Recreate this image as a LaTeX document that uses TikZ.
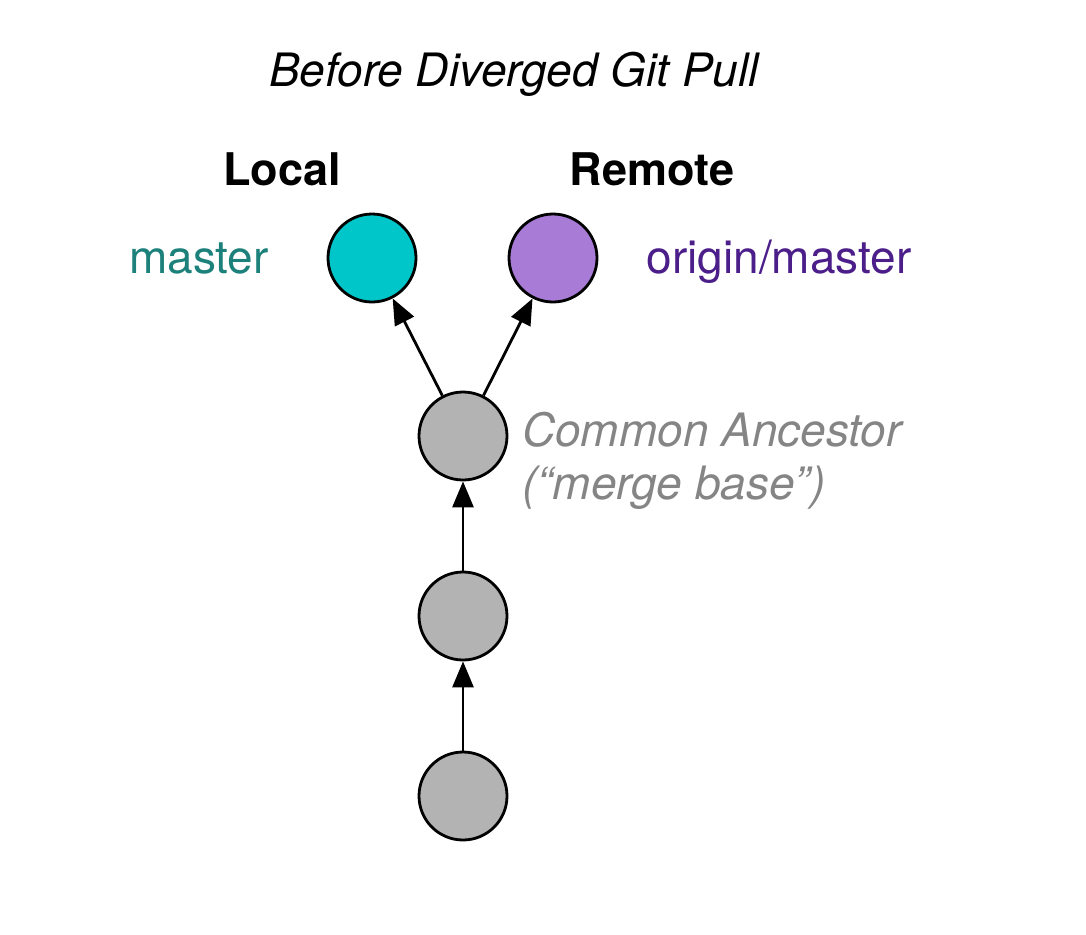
\documentclass[tikz,border=0pt]{standalone}
\usepackage{fontspec}
\setmainfont{TeX Gyre Heros}
\usetikzlibrary{arrows.meta}
\definecolor{tealfill}{HTML}{00C6CA}
\definecolor{purplefill}{HTML}{A77BD6}
\definecolor{greyfill}{HTML}{B3B3B3}
\definecolor{tealtext}{HTML}{1C807B}
\definecolor{purpletext}{HTML}{4B1E8A}
\definecolor{greytext}{HTML}{858585}

\begin{document}
\begin{tikzpicture}[x=1pt,y=-1pt]
    \tikzset{%
      commit/.style={circle, draw, line width=2.8pt, inner sep=0pt,
        minimum size=88pt},
      label/.style={anchor=base, inner sep=0pt, font=\fontsize{46}{52}\selectfont},
      parent/.style={-{Triangle[length=26pt,width=21pt]}, line width=2.8pt},
    }
    \useasboundingbox (0,0) rectangle (1086,934);
    \node[label, font=\fontsize{46}{52}\selectfont\itshape] (title) at (514,86) {Before Diverged Git Pull};
    \node[label, font=\fontsize{45}{52}\selectfont\bfseries] (local) at (282,185) {Local};
    \node[label, font=\fontsize{45}{52}\selectfont\bfseries] (remote) at (652,185) {Remote};

    \node[commit, fill=tealfill] (L) at (372,258) {};
    \node[commit, fill=purplefill] (R) at (553,258) {};
    \node[label, tealtext] (master) at (199,273) {master};
    \node[label, purpletext] (origin) at (779,273) {origin/master};

    \node[commit, fill=greyfill] (C) at (463,436) {};
    \node[commit, fill=greyfill] (B) at (463,616) {};
    \node[commit, fill=greyfill] (A) at (463,796) {};
    \node[anchor=base west, inner sep=0pt, greytext, align=left,
      font=\fontsize{46}{53}\selectfont\itshape] (base) at (522,499)
      {Common Ancestor\\(“merge base”)};

    \draw [parent] (C) -- (L);
    \draw [parent] (C) -- (R);
    \draw [parent] (B) -- (C);
    \draw [parent] (A) -- (B);
  \end{tikzpicture}
\end{document}
